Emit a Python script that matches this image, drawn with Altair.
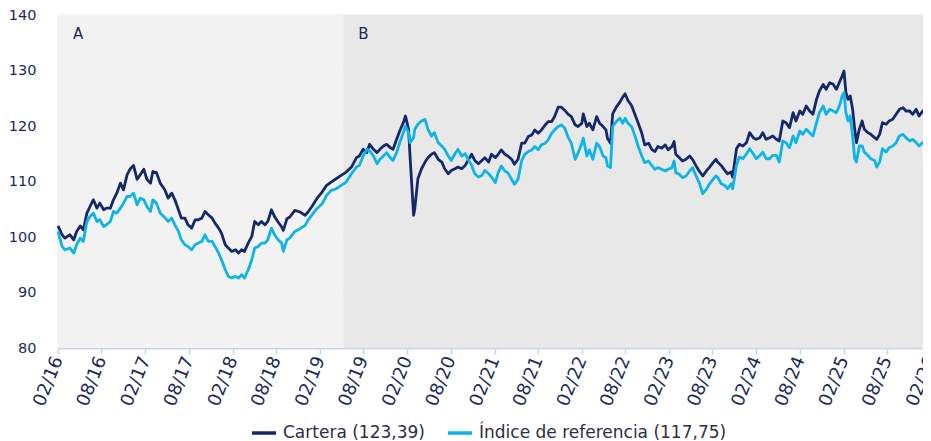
import altair as alt
import pandas as pd

# ---------------- data ----------------
dates = [
    "2016-02-01", "2016-02-18", "2016-03-01", "2016-03-22", "2016-04-07", "2016-04-19", "2016-05-04", "2016-05-17",
    "2016-06-01", "2016-06-14", "2016-06-28", "2016-07-13", "2016-07-25", "2016-08-10", "2016-08-22", "2016-09-07",
    "2016-09-20", "2016-10-04", "2016-10-19", "2016-11-01", "2016-11-16", "2016-11-28", "2016-12-13", "2016-12-28",
    "2017-01-10", "2017-01-25", "2017-02-07", "2017-02-22", "2017-03-04", "2017-03-19", "2017-04-04", "2017-04-23",
    "2017-05-07", "2017-05-22", "2017-06-04", "2017-06-19", "2017-07-01", "2017-07-16", "2017-07-29", "2017-08-13",
    "2017-08-28", "2017-09-10", "2017-09-25", "2017-10-08", "2017-10-22", "2017-11-07", "2017-11-19", "2017-12-04",
    "2017-12-16", "2018-01-01", "2018-01-14", "2018-01-28", "2018-02-13", "2018-02-25", "2018-03-10", "2018-03-22",
    "2018-04-07", "2018-04-22", "2018-05-04", "2018-05-19", "2018-06-01", "2018-06-16", "2018-06-28", "2018-07-13",
    "2018-07-26", "2018-08-10", "2018-08-25", "2018-09-01", "2018-09-16", "2018-09-28", "2018-10-19", "2018-11-10",
    "2018-12-01", "2018-12-13", "2018-12-28", "2019-01-19", "2019-02-10", "2019-03-01", "2019-03-20", "2019-04-10",
    "2019-05-01", "2019-05-22", "2019-06-13", "2019-07-04", "2019-07-16", "2019-08-01", "2019-08-16", "2019-08-28",
    "2019-09-13", "2019-09-28", "2019-10-10", "2019-10-25", "2019-11-07", "2019-11-22", "2019-12-04", "2019-12-19",
    "2020-01-01", "2020-01-16", "2020-01-25", "2020-02-07", "2020-02-13", "2020-02-28", "2020-03-04", "2020-03-17",
    "2020-04-01", "2020-04-16", "2020-04-28", "2020-05-13", "2020-05-25", "2020-06-10", "2020-06-25", "2020-07-07",
    "2020-07-22", "2020-08-04", "2020-08-19", "2020-09-01", "2020-09-16", "2020-10-01", "2020-10-13", "2020-10-28",
    "2020-11-10", "2020-11-25", "2020-12-10", "2020-12-22", "2021-01-07", "2021-01-19", "2021-02-04", "2021-02-16",
    "2021-03-01", "2021-03-16", "2021-03-28", "2021-04-13", "2021-04-25", "2021-05-10", "2021-05-25", "2021-06-07",
    "2021-06-22", "2021-07-07", "2021-07-19", "2021-08-02", "2021-08-16", "2021-09-01", "2021-09-13", "2021-09-28",
    "2021-10-10", "2021-10-25", "2021-11-07", "2021-11-22", "2021-12-04", "2021-12-19", "2022-01-04", "2022-01-16",
    "2022-02-01", "2022-02-07", "2022-02-22", "2022-03-04", "2022-03-19", "2022-04-04", "2022-04-16", "2022-05-01",
    "2022-05-13", "2022-05-19", "2022-06-01", "2022-06-10", "2022-06-25", "2022-07-10", "2022-07-22", "2022-08-01",
    "2022-08-13", "2022-08-28", "2022-09-10", "2022-09-25", "2022-10-10", "2022-10-22", "2022-11-07", "2022-11-22",
    "2022-12-04", "2022-12-16", "2023-01-01", "2023-01-16", "2023-01-28", "2023-02-13", "2023-02-22", "2023-03-01",
    "2023-03-16", "2023-03-29", "2023-04-13", "2023-04-28", "2023-05-10", "2023-05-25", "2023-06-07", "2023-06-22",
    "2023-07-07", "2023-07-19", "2023-08-04", "2023-08-16", "2023-08-23", "2023-09-07", "2023-09-22", "2023-10-04",
    "2023-10-19", "2023-10-25", "2023-11-10", "2023-11-22", "2023-12-07", "2023-12-22", "2024-01-04", "2024-01-19",
    "2024-02-01", "2024-02-16", "2024-02-28", "2024-03-13", "2024-03-28", "2024-04-10", "2024-04-25", "2024-05-07",
    "2024-05-22", "2024-06-04", "2024-06-19", "2024-07-04", "2024-07-16", "2024-08-01", "2024-08-13", "2024-08-28",
    "2024-09-11", "2024-09-25", "2024-10-10", "2024-10-22", "2024-11-07", "2024-11-19", "2024-12-04", "2024-12-19",
    "2025-01-01", "2025-01-16", "2025-01-25", "2025-02-02", "2025-02-10", "2025-02-19", "2025-02-28", "2025-03-10",
    "2025-03-19", "2025-03-26", "2025-04-07", "2025-04-19", "2025-04-28", "2025-05-13", "2025-05-25", "2025-06-10",
    "2025-06-19", "2025-07-01", "2025-07-13", "2025-07-28", "2025-08-10", "2025-08-25", "2025-09-08", "2025-09-22",
    "2025-10-07", "2025-10-19", "2025-11-04", "2025-11-16", "2025-12-01", "2025-12-13", "2025-12-28", "2026-01-13",
    "2026-01-25", "2026-02-01",
]

cartera = [
    102.0, 100.4, 99.8, 100.4, 99.5, 101.0, 102.0, 101.3,
    104.3, 105.5, 106.7, 105.2, 106.1, 104.9, 105.2, 105.2,
    106.7, 107.9, 109.7, 108.5, 111.2, 112.2, 112.9, 110.4,
    111.2, 112.2, 110.4, 109.7, 111.8, 111.6, 109.7, 108.5,
    107.0, 107.9, 106.7, 104.9, 103.4, 103.4, 102.2, 101.6,
    103.1, 103.1, 103.4, 104.6, 104.0, 103.4, 102.5, 101.6,
    100.7, 98.6, 98.0, 97.4, 97.7, 97.1, 97.7, 97.4,
    98.9, 100.1, 102.8, 102.2, 102.8, 102.2, 102.8, 104.9,
    103.7, 102.7, 101.8, 101.2, 103.3, 103.6, 104.8, 104.5,
    103.9, 104.5, 105.4, 106.9, 108.1, 109.3, 109.9, 110.5,
    111.1, 111.7, 112.6, 114.3, 114.6, 115.8, 115.2, 116.7,
    115.8, 115.2, 115.8, 116.4, 116.7, 116.1, 115.8, 117.6,
    119.1, 120.6, 121.8, 119.4, 114.6, 103.9, 105.1, 110.5,
    112.3, 113.5, 114.3, 114.9, 115.2, 114.0, 113.5, 112.3,
    111.4, 112.0, 112.3, 112.6, 112.3, 112.9, 113.8, 114.9,
    113.8, 113.2, 113.8, 114.3, 113.5, 114.9, 114.3, 114.9,
    115.7, 114.9, 114.6, 114.0, 113.1, 114.0, 116.9, 116.9,
    118.1, 118.4, 119.3, 118.7, 119.3, 120.2, 120.8, 120.8,
    121.7, 123.4, 123.4, 122.8, 122.2, 121.7, 120.2, 119.9,
    120.5, 122.2, 119.9, 120.5, 119.3, 121.7, 120.5, 119.9,
    119.3, 117.8, 116.9, 122.2, 123.4, 124.3, 125.2, 125.8,
    124.6, 123.7, 122.2, 120.5, 118.7, 116.6, 116.9, 115.7,
    115.4, 116.3, 116.0, 116.6, 115.7, 116.3, 117.2, 114.9,
    114.3, 113.7, 114.0, 114.6, 114.0, 112.8, 111.9, 111.0,
    111.9, 112.5, 113.4, 114.0, 113.5, 112.9, 112.0, 111.4,
    111.7, 110.8, 115.9, 116.7, 116.4, 117.0, 118.8, 117.9,
    117.6, 117.9, 118.8, 117.6, 117.9, 118.2, 117.6, 117.3,
    120.9, 120.6, 119.7, 122.4, 120.9, 122.7, 122.1, 123.6,
    122.7, 122.1, 124.8, 126.3, 127.5, 126.6, 127.8, 127.5,
    126.6, 128.1, 129.0, 129.9, 126.0, 124.8, 125.4, 123.0,
    119.4, 117.0, 119.4, 120.9, 119.4, 118.8, 118.5, 117.9,
    117.6, 118.5, 120.6, 120.3, 120.9, 121.2, 122.1, 123.0,
    123.3, 122.7, 122.7, 122.1, 123.0, 121.8, 122.7, 122.1,
    123.3, 123.39,
]

indice = [
    101.0, 98.3, 97.7, 98.0, 97.1, 98.6, 99.8, 99.2,
    102.8, 103.7, 104.3, 102.8, 103.1, 101.9, 102.2, 102.8,
    104.6, 104.3, 105.2, 106.1, 107.3, 107.3, 107.9, 105.8,
    107.0, 106.7, 105.5, 104.6, 106.7, 106.1, 104.3, 103.5,
    102.8, 103.4, 102.2, 101.0, 99.5, 98.6, 98.3, 97.7,
    98.6, 98.9, 99.2, 100.4, 99.2, 99.2, 98.3, 97.1,
    95.9, 94.1, 92.9, 92.6, 92.9, 92.6, 93.2, 92.6,
    94.1, 95.9, 98.0, 98.3, 98.9, 98.9, 99.5, 101.6,
    100.4, 99.5, 98.9, 97.4, 99.5, 99.8, 101.0, 101.5,
    102.1, 103.0, 103.9, 105.1, 106.0, 107.5, 108.4, 108.7,
    109.3, 109.9, 111.4, 112.6, 112.9, 114.6, 115.8, 115.5,
    114.6, 113.2, 114.0, 114.6, 115.2, 114.3, 113.8, 115.2,
    117.0, 118.8, 120.0, 118.8, 117.0, 117.9, 119.4, 120.3,
    120.9, 121.2, 119.4, 118.2, 118.8, 117.0, 116.4, 115.8,
    114.6, 113.8, 115.0, 115.8, 114.6, 115.0, 114.0, 112.9,
    111.4, 110.8, 111.1, 112.0, 111.4, 110.8, 109.8, 111.6,
    112.8, 111.9, 111.6, 110.4, 109.5, 110.4, 113.7, 114.9,
    115.4, 115.7, 116.3, 115.7, 116.6, 116.9, 117.5, 118.7,
    119.3, 119.9, 120.2, 119.6, 118.1, 116.9, 114.0, 115.1,
    116.9, 117.8, 114.6, 115.7, 114.0, 116.9, 116.3, 114.6,
    114.3, 112.8, 112.5, 119.9, 120.8, 121.4, 120.5, 121.4,
    120.5, 119.9, 118.4, 116.3, 114.6, 113.4, 113.7, 112.8,
    112.2, 112.5, 112.2, 111.9, 112.2, 112.5, 113.7, 111.6,
    111.3, 110.7, 111.0, 111.9, 112.5, 111.0, 109.8, 107.8,
    108.6, 109.5, 110.4, 111.0, 110.8, 109.6, 109.3, 108.7,
    109.6, 108.7, 112.9, 114.4, 114.1, 115.0, 115.9, 115.0,
    114.1, 114.7, 115.3, 114.1, 114.1, 114.7, 114.7, 113.5,
    117.3, 117.0, 116.1, 118.2, 117.0, 119.1, 118.5, 119.4,
    118.8, 118.2, 120.6, 122.4, 123.6, 122.1, 123.0, 122.7,
    122.4, 123.9, 125.4, 126.0, 122.4, 120.9, 121.8, 118.2,
    114.1, 113.5, 116.4, 116.4, 115.3, 114.7, 114.1, 113.8,
    112.6, 113.5, 115.9, 115.3, 116.1, 116.4, 117.0, 118.2,
    118.5, 117.9, 117.3, 117.6, 117.0, 116.4, 117.0, 117.6,
    118.2, 117.75,
]

series_names = ["Cartera (123,39)", "Índice de referencia (117,75)"]
series_colors = ["#14296a", "#0cb4e8"]

region_labels = ["A", "B"]
region_start = ["2016-02-01", "2019-05-10"]
region_end = ["2019-05-10", "2026-02-01"]
region_fills = ["#f2f2f2", "#e8e8e8"]

y_ticks = [80, 90, 100, 110, 120, 130, 140]
x_tick_years = [2016, 2016, 2017, 2017, 2018, 2018, 2019, 2019, 2020, 2020, 2021,
                2021, 2022, 2022, 2023, 2023, 2024, 2024, 2025, 2025, 2026]
x_tick_months = [2, 8, 2, 8, 2, 8, 2, 8, 2, 8, 2, 8, 2, 8, 2, 8, 2, 8, 2, 8, 2]

# ---------------- tables ----------------
lines_df = pd.concat([
    pd.DataFrame({"date": dates, "value": cartera, "serie": series_names[0]}),
    pd.DataFrame({"date": dates, "value": indice, "serie": series_names[1]}),
])
regions_df = pd.DataFrame({"label": region_labels, "start": region_start, "end": region_end})

NAVY = "#1b2a5c"
GRID = "#c8d2e2"
FONT = "DejaVu Sans"
W, H = 873, 333

tick_values = [alt.DateTime(year=y, month=m, date=1, utc=True) for y, m in zip(x_tick_years, x_tick_months)]
x_scale = alt.Scale(type="utc", domain=[tick_values[0], tick_values[-1]])
x_axis = alt.Axis(values=tick_values, labelExpr="utcFormat(datum.value, '%m/%y')", labelAngle=292,
                  labelAlign="right", labelBaseline="middle", labelPadding=3,
                  labelFontSize=18, labelFont=FONT, labelColor=NAVY,
                  tickSize=6, tickColor=GRID, tickWidth=1.5, domainColor=GRID, domainWidth=1.5,
                  grid=False, title=None, labelOverlap=False, labelBound=False, labelFlush=False)
y_scale = alt.Scale(domain=[80, 140], nice=False, zero=False)
y_axis = alt.Axis(values=y_ticks, labelFontSize=14.5, labelFont=FONT, labelColor=NAVY,
                  labelPadding=22, ticks=False, domainColor=GRID, domainWidth=1.5,
                  grid=True, gridColor=GRID, gridWidth=1.5, title=None)

bands = alt.Chart(regions_df).mark_rect().encode(
    x=alt.X("start:T", scale=x_scale, axis=x_axis, title=None),
    x2="end:T",
    y=alt.value(0),
    y2=alt.value(H),
    fill=alt.Fill("label:N", scale=alt.Scale(domain=region_labels, range=region_fills), legend=None),
)

band_text = alt.Chart(regions_df).mark_text(
    align="left", baseline="middle", dx=15, fontSize=15, font=FONT, color=NAVY
).encode(
    x=alt.X("start:T", scale=x_scale, axis=x_axis, title=None),
    y=alt.value(19),
    text="label:N",
)

lines = alt.Chart(lines_df).mark_line(strokeWidth=2.8, strokeJoin="round").encode(
    x=alt.X("date:T", scale=x_scale, axis=x_axis, title=None),
    y=alt.Y("value:Q", scale=y_scale, axis=y_axis, title=None),
    color=alt.Color("serie:N", scale=alt.Scale(domain=series_names, range=series_colors),
                    legend=alt.Legend(title=None, orient="none", legendX=192, legendY=404,
                                      direction="horizontal", symbolType="stroke",
                                      symbolSize=576, symbolStrokeWidth=3.5,
                                      labelFontSize=17, labelFont=FONT, labelColor="#2a2f45",
                                      labelOffset=5, columnPadding=16, labelLimit=500)),
)

chart = alt.layer(bands, band_text, lines).properties(
    width=W, height=H,
    autosize=alt.AutoSizeParams(type="none"),
    padding={"left": 50, "top": 7, "right": -8, "bottom": 93},
).configure_view(strokeWidth=0).configure(background="white")

chart.save("out.html", embed_options={"renderer": "svg", "actions": False})
